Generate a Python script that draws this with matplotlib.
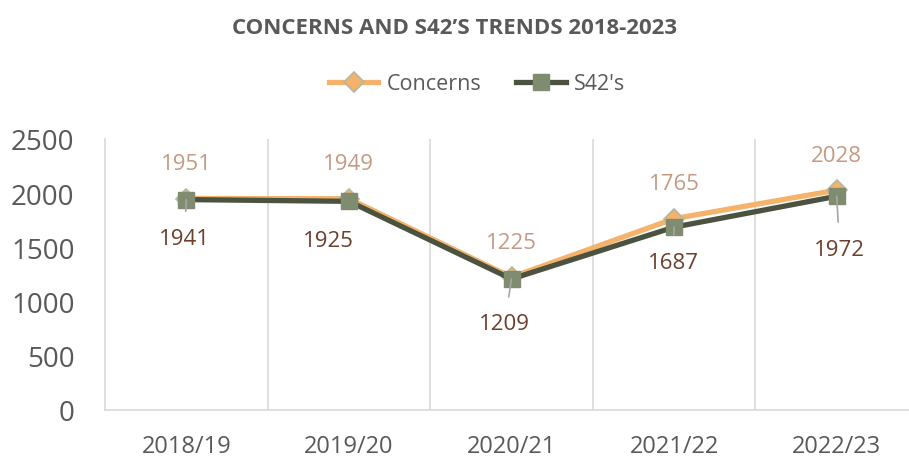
import matplotlib.pyplot as plt

years = ["2018/19", "2019/20", "2020/21", "2021/22", "2022/23"]
concerns = [1951, 1949, 1225, 1765, 2028]
s42 = [1941, 1925, 1209, 1687, 1972]

# label offsets for S42's values (pixels)
s42_offsets = [(-2, -39), (-21, -39), (-7, -45), (-1, -35), (3, -53)]
s42_leader = [True, False, True, True, True]

plt.rcParams["font.family"] = ["Open Sans", "DejaVu Sans"]

fig = plt.figure(figsize=(9.09, 4.6), dpi=100)
ax = fig.add_axes([105 / 909, 1 - 411 / 460, 813 / 909, 271 / 460])

x = list(range(len(years)))
ax.plot(x, concerns, color="#F4B26B", lw=3.8, marker="D", ms=10,
        mfc="#F4B26B", mec="#B3B8A0", mew=1.2, label="Concerns", zorder=3)
ax.plot(x, s42, color="#4B5340", lw=3.8, marker="s", ms=12,
        mfc="#7F8C70", mec="#7F8C70", label="S42's", zorder=4)

for i, v in enumerate(concerns):
    ax.annotate(str(v), (i, v), xytext=(0, 35), textcoords="offset pixels",
                ha="center", va="center", fontsize=16, color="#C49A83")

for i, v in enumerate(s42):
    dx, dy = s42_offsets[i]
    props = dict(arrowstyle="-", color="#A6A6A6", lw=1.2, shrinkA=10, shrinkB=0) if s42_leader[i] else None
    ax.annotate(str(v), (i, v), xytext=(dx, dy), textcoords="offset pixels",
                ha="center", va="center", fontsize=16, color="#6B3E2E",
                arrowprops=props, zorder=5)

ax.set_xlim(-0.5, len(years) - 0.5)
ax.set_ylim(0, 2500)
ax.set_yticks(range(0, 2501, 500))
ax.set_xticks(x)
ax.set_xticklabels(years)
for g in [0.5, 1.5, 2.5, 3.5]:
    ax.axvline(g, color="#D9D9D9", lw=1.2, zorder=1)

for s in ["top", "right"]:
    ax.spines[s].set_visible(False)
for s in ["left", "bottom"]:
    ax.spines[s].set_color("#D9D9D9")
    ax.spines[s].set_linewidth(1.2)
ax.tick_params(axis="y", length=0, pad=22, labelsize=20, labelcolor="#595959")
ax.tick_params(axis="x", length=0, pad=17, labelsize=17, labelcolor="#595959")

fig.text(0.5, 1 - 28 / 460, "CONCERNS AND S42’S TRENDS 2018-2023", ha="center", va="center",
         fontsize=16, fontweight="bold", color="#595959")

leg = fig.legend(loc="center", bbox_to_anchor=(0.525, 1 - 85 / 460), ncol=2, frameon=False,
                 fontsize=15.5, handlelength=2.3, columnspacing=1.6, handletextpad=0.4)
for t in leg.get_texts():
    t.set_color("#595959")

fig.savefig("out.png", dpi=100)
